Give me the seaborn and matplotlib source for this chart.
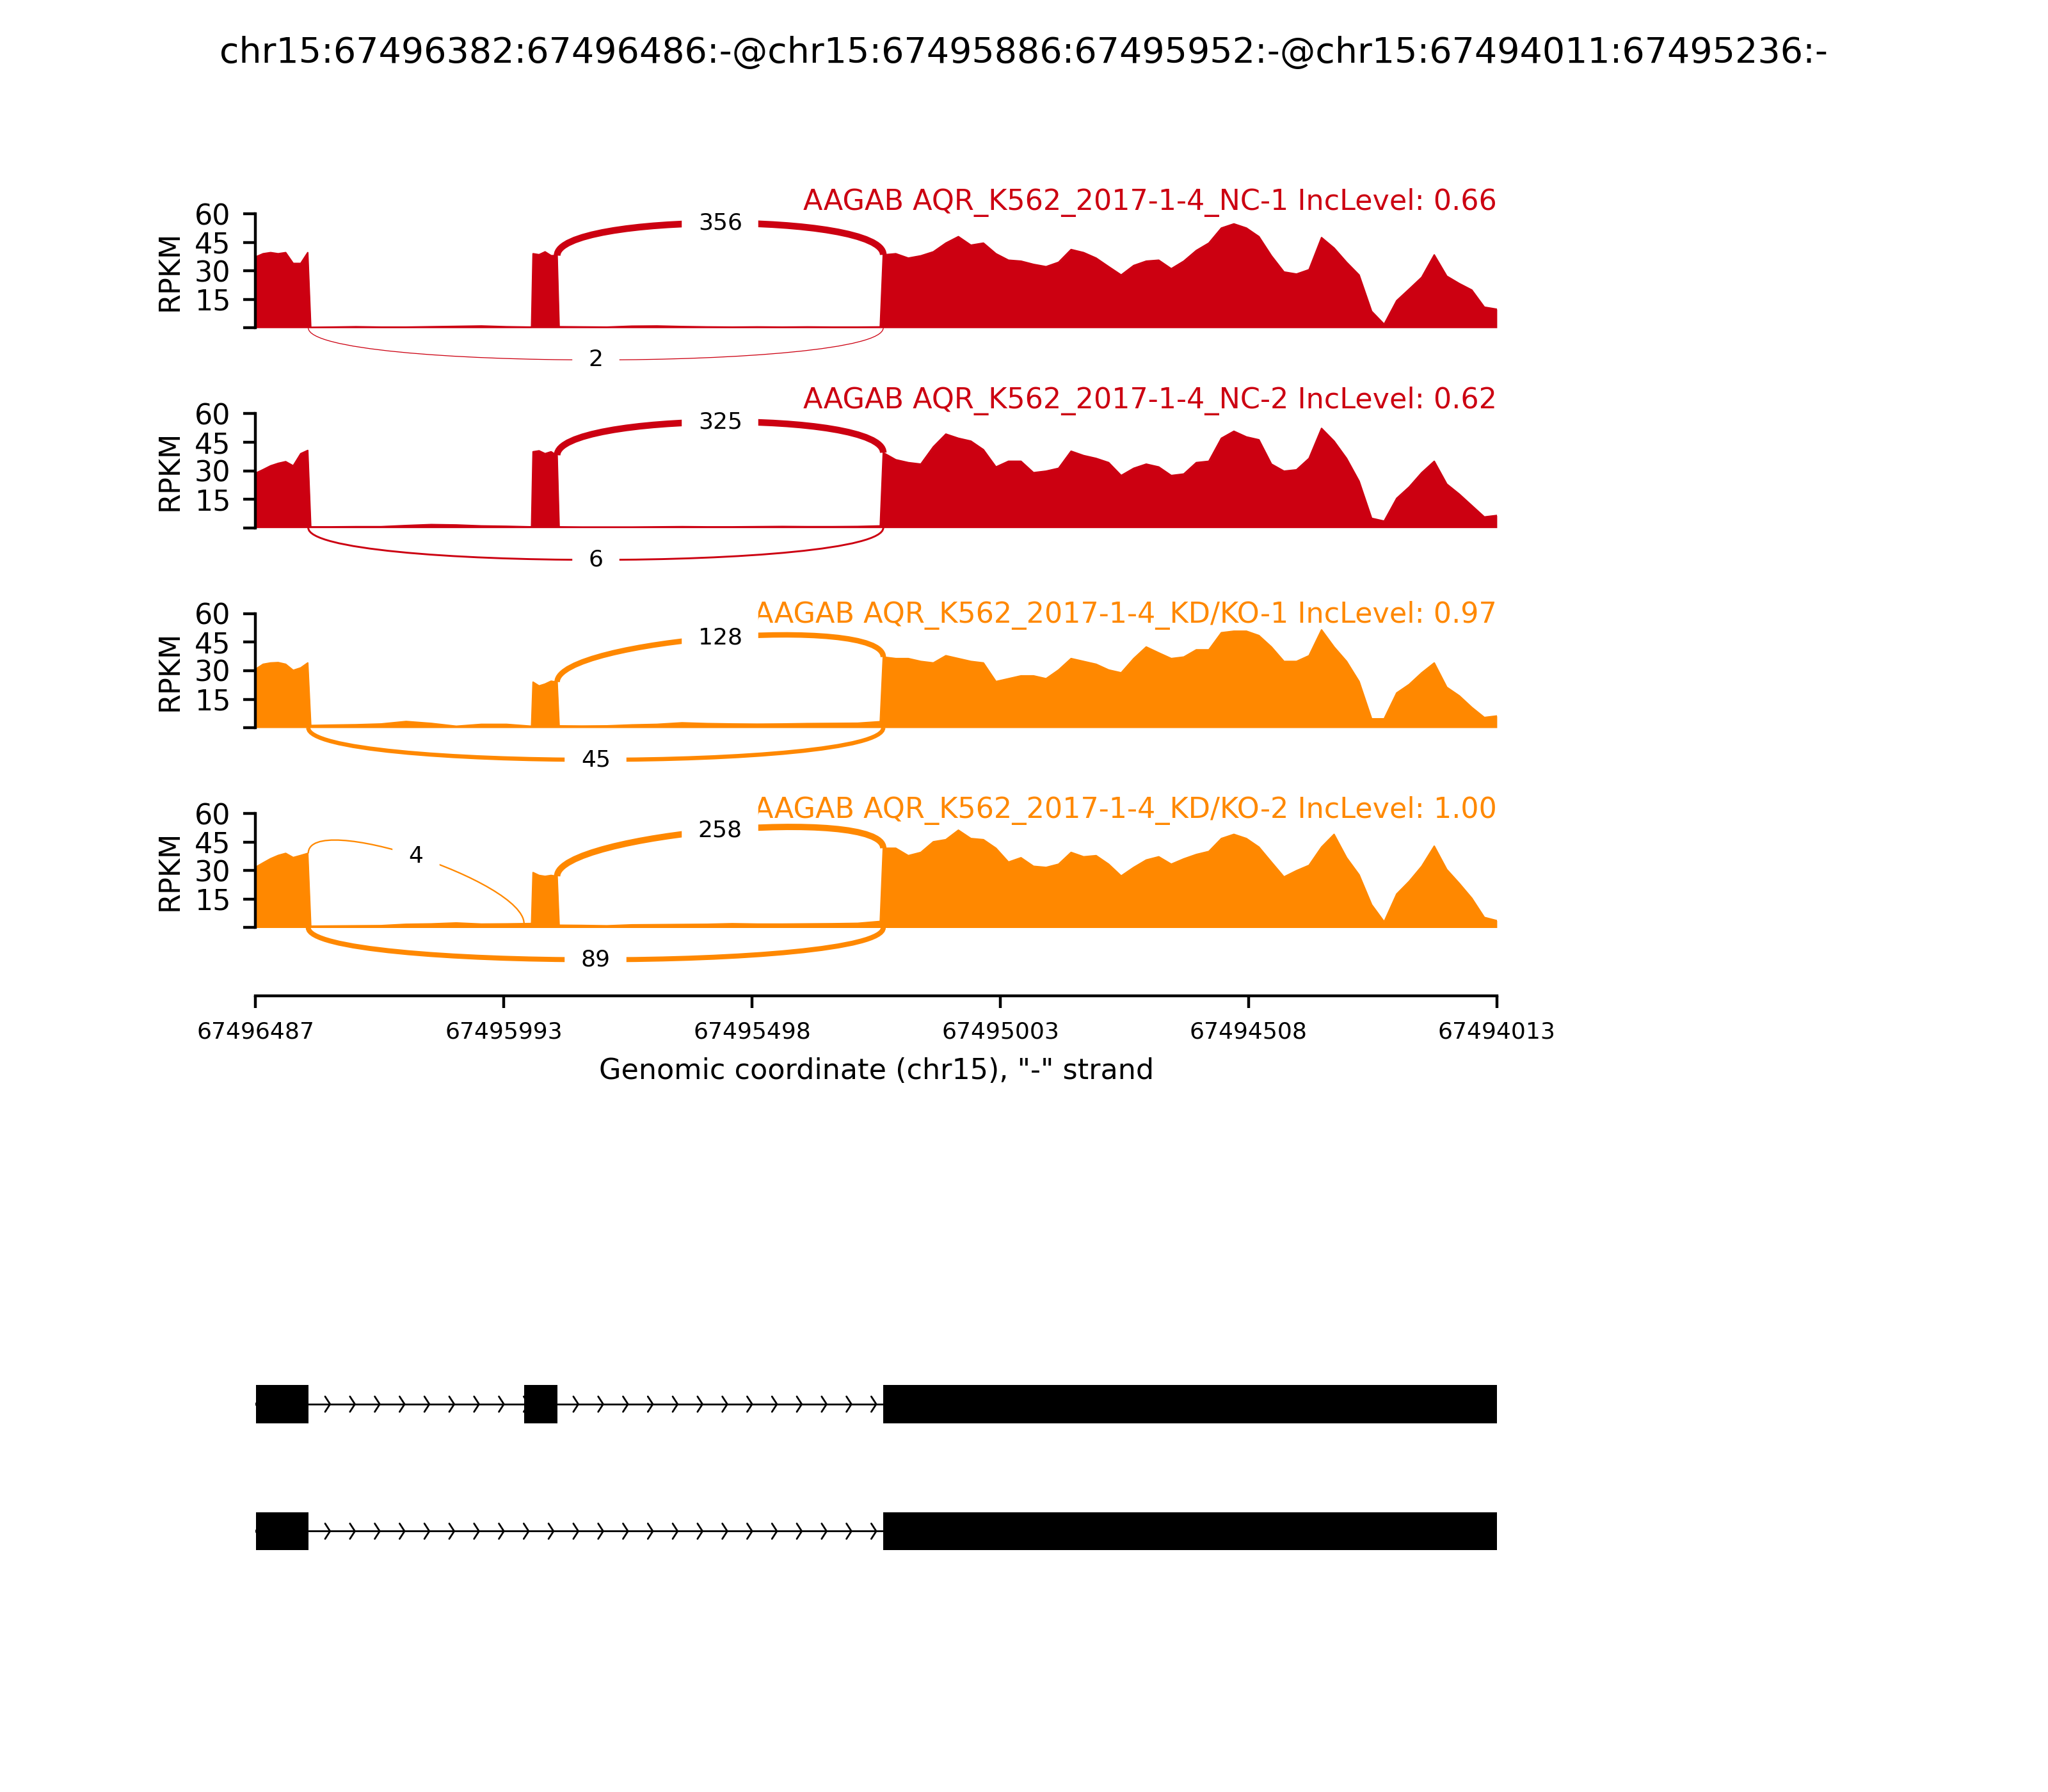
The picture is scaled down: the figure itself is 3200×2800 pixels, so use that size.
import numpy as np
import pandas as pd
import matplotlib
matplotlib.use("Agg")
import matplotlib.pyplot as plt
from matplotlib.path import Path
from matplotlib.patches import PathPatch, Rectangle
import seaborn as sns

# ---- event / region ----
TITLE = "chr15:67496382:67496486:-@chr15:67495886:67495952:-@chr15:67494011:67495236:-"
REGION_LEFT = 67496487   # "-" strand, so genomic coordinates decrease to the right
REGION_RIGHT = 67494013
XTICK_LABELS = ["67496487", "67495993", "67495498", "67495003", "67494508", "67494013"]
XLABEL = 'Genomic coordinate (chr15), "-" strand'

SAMPLE_LABELS = [
    "AAGAB AQR_K562_2017-1-4_NC-1 IncLevel: 0.66",
    "AAGAB AQR_K562_2017-1-4_NC-2 IncLevel: 0.62",
    "AAGAB AQR_K562_2017-1-4_KD/KO-1 IncLevel: 0.97",
    "AAGAB AQR_K562_2017-1-4_KD/KO-2 IncLevel: 1.00",
]
SAMPLE_COLORS = ["#CC0011", "#CC0011", "#FF8800", "#FF8800"]

# isoforms (genomic exon coordinates)
ISOFORM_INC = [(67496382, 67496486), (67495886, 67495952), (67494011, 67495236)]
ISOFORM_SKIP = [(67496382, 67496486), (67494011, 67495236)]

# junctions: (donor, acceptor) in genomic coords, and where the arc goes
JUNCTIONS = [(67496382, 67495236, "bottom"),   # exon1 -> exon3 (skipping)
             (67495886, 67495236, "top"),      # exon2 -> exon3
             (67496382, 67495952, "top")]      # exon1 -> exon2
NC1_JXN = [2, 356, 0]
NC2_JXN = [6, 325, 0]
KD1_JXN = [45, 128, 0]
KD2_JXN = [89, 258, 4]

# ---- coverage (RPKM), positions are offsets from REGION_LEFT ----
EXON1_POS = [0, 15, 30, 45, 60, 75, 90, 104]
INTRON1_POS = [110, 150, 200, 250, 300, 350, 400, 450, 500, 550]
EXON2_POS = [553, 565, 577, 589, 601]
INTRON2_POS = [605, 650, 700, 750, 800, 850, 900, 950, 1000, 1050, 1100, 1150, 1200, 1245]
EXON3_POS = list(np.linspace(1251, 2474, 50))

NC1_COV = (
    [37.3, 39.0, 39.6, 39.0, 39.6, 33.9, 33.9, 39.6]
    + [0.3, 0.4, 0.6, 0.4, 0.4, 0.6, 0.8, 1.0, 0.6, 0.4]
    + [39.0, 38.5, 40.0, 38.0, 38.0]
    + [0.6, 0.5, 0.4, 0.9, 1.0, 0.7, 0.5, 0.4, 0.5, 0.4, 0.5, 0.4, 0.4, 0.5]
    + [38.4, 39.0, 36.7, 37.9, 40.0, 44.6, 48.0, 43.5, 44.6, 39.0,
       35.6, 35.1, 33.4, 32.2, 34.5, 41.2, 39.6, 36.7, 32.2, 27.8,
       32.8, 35.1, 35.6, 31.1, 35.1, 40.7, 44.6, 52.5, 54.7, 52.5,
       48.0, 37.9, 29.4, 28.3, 30.6, 47.5, 42.0, 34.5, 27.8, 8.7,
       1.9, 14.3, 20.4, 26.6, 38.4, 27.2, 23.3, 19.9, 10.9, 9.8]
)
NC2_COV = (
    [28.7, 30.6, 32.6, 33.9, 34.8, 32.6, 39.0, 40.7]
    + [0.5, 0.5, 0.6, 0.6, 1.2, 1.7, 1.5, 1.0, 0.8, 0.5]
    + [40.0, 40.5, 39.0, 40.0, 38.0]
    + [0.5, 0.4, 0.4, 0.4, 0.5, 0.6, 0.5, 0.5, 0.6, 0.7, 0.6, 0.6, 0.7, 1.0]
    + [39.5, 35.8, 34.3, 33.5, 42.6, 49.3, 47.1, 45.6, 41.1, 32.0,
       35.0, 35.0, 29.0, 29.8, 31.3, 40.3, 38.0, 36.5, 34.3, 27.5,
       31.3, 33.5, 32.0, 27.5, 28.3, 34.3, 35.0, 47.1, 50.8, 47.8,
       46.3, 33.5, 29.8, 30.5, 36.5, 52.3, 45.6, 36.5, 24.5, 5.0,
       3.5, 15.5, 21.5, 29.0, 35.0, 23.0, 17.7, 11.7, 5.7, 6.5]
)
KD1_COV = (
    [30.8, 33.4, 34.1, 34.3, 33.4, 30.2, 31.5, 34.1]
    + [1.2, 1.4, 1.6, 2.0, 3.3, 2.3, 0.8, 1.8, 1.8, 0.8]
    + [24.0, 22.0, 23.0, 24.5, 24.0]
    + [1.0, 0.9, 1.0, 1.5, 1.8, 2.6, 2.2, 2.0, 1.9, 2.0, 2.2, 2.3, 2.4, 3.2]
    + [37.2, 36.4, 36.4, 34.9, 34.1, 37.9, 36.4, 34.9, 34.1, 24.3,
       25.8, 27.3, 27.3, 25.8, 30.4, 36.4, 34.9, 33.4, 30.4, 28.9,
       36.4, 42.5, 39.4, 36.4, 37.2, 41.0, 41.0, 50.0, 50.8, 50.8,
       48.5, 42.5, 34.9, 34.9, 37.9, 51.5, 42.5, 34.9, 24.3, 4.7,
       4.7, 18.3, 22.8, 28.9, 34.1, 21.3, 16.8, 10.7, 5.4, 6.2]
)
KD2_COV = (
    [31.8, 34.1, 36.3, 38.0, 39.1, 36.9, 38.0, 39.1]
    + [0.8, 0.9, 1.0, 1.1, 1.8, 2.0, 2.5, 1.9, 2.0, 2.2]
    + [29.0, 27.5, 27.0, 27.5, 27.0]
    + [1.3, 1.2, 1.0, 1.5, 1.6, 1.7, 1.8, 2.1, 1.9, 1.9, 2.0, 2.1, 2.3, 3.3]
    + [41.8, 41.8, 37.9, 39.6, 45.2, 46.3, 51.3, 46.9, 46.3, 41.8,
       34.5, 36.8, 32.3, 31.7, 33.4, 39.6, 37.3, 37.9, 33.4, 27.2,
       31.7, 35.6, 37.3, 33.4, 36.2, 38.5, 40.1, 46.9, 49.1, 46.9,
       42.4, 34.5, 26.7, 30.0, 32.8, 42.4, 49.1, 36.8, 27.8, 12.1,
       3.1, 17.7, 24.4, 32.3, 42.9, 30.6, 23.3, 15.5, 5.4, 3.7]
)

# ---- layout ----
AX_LEFT, AX_WIDTH = 0.1248, 0.6061
PANEL_BOTTOMS = [0.77886, 0.66729, 0.55571, 0.44414]
PANEL_HEIGHT = 0.10183
YMIN, YMAX = -36, 60
ARC_H = 22.5
LABEL_Y = [62.0, 62.9, 55.1, 57.7]

sns.set_theme(style="ticks", rc={
    "axes.edgecolor": "black", "axes.linewidth": 0.8,
    "xtick.color": "black", "ytick.color": "black",
    "xtick.major.size": 3.5, "ytick.major.size": 3.5,
    "xtick.major.width": 0.8, "ytick.major.width": 0.8,
    "xtick.major.pad": 3.5, "ytick.major.pad": 3.5,
    "text.color": "black", "axes.labelcolor": "black",
})
plt.rcParams["font.family"] = ["DejaVu Sans"]

span = REGION_LEFT - REGION_RIGHT
pos = np.array(EXON1_POS + INTRON1_POS + EXON2_POS + INTRON2_POS + EXON3_POS)

fig = plt.figure(figsize=(8, 7), dpi=400)
fig.suptitle(TITLE, fontsize=10)

covs = [NC1_COV, NC2_COV, KD1_COV, KD2_COV]
jxns = [NC1_JXN, NC2_JXN, KD1_JXN, KD2_JXN]

for i in range(4):
    color = SAMPLE_COLORS[i]
    cov = np.array(covs[i])
    ax = fig.add_axes([AX_LEFT, PANEL_BOTTOMS[i], AX_WIDTH, PANEL_HEIGHT])
    df = pd.DataFrame({"pos": pos, "rpkm": cov})
    ax.fill_between(df["pos"], df["rpkm"], 0, color=color, lw=0)
    sns.lineplot(data=df, x="pos", y="rpkm", ax=ax, color=color, lw=0.4)

    # junction arcs
    for (donor, acceptor, side), count in zip(JUNCTIONS, jxns[i]):
        if count == 0:
            continue
        ss1, ss2 = REGION_LEFT - donor, REGION_LEFT - acceptor
        if side == "bottom":
            pts = [(ss1, 0), (ss1, -ARC_H), (ss2, -ARC_H), (ss2, 0)]
        else:
            ld = np.interp(ss1 - 1, pos, cov)
            rd = np.interp(ss2, pos, cov)
            pts = [(ss1, ld), (ss1, ld + ARC_H), (ss2, rd + ARC_H), (ss2, rd)]
        p = np.array(pts)
        mid = (p[0] + 3 * p[1] + 3 * p[2] + p[3]) / 8
        path = Path(pts, [Path.MOVETO, Path.CURVE4, Path.CURVE4, Path.CURVE4])
        ax.add_patch(PathPatch(path, ec=color, fc="none",
                               lw=0.8 * np.log10(count + 1) - 0.15))
        ax.text(mid[0], mid[1], str(count), fontsize=6.5, ha="center",
                va="center", backgroundcolor="white", zorder=5)

    ax.text(span, LABEL_Y[i], SAMPLE_LABELS[i], color=color, fontsize=8,
            ha="right", va="baseline")

    ax.set_xlim(0, span)
    ax.set_ylim(YMIN, YMAX)
    ax.set_yticks([0, 15, 30, 45, 60])
    ax.set_yticklabels(["", "15", "30", "45", "60"], fontsize=8)
    ax.spines["left"].set_bounds(0, 60)
    ax.set_ylabel("RPKM", fontsize=8)
    ax.yaxis.set_label_coords(-0.058, (30 - YMIN) / (YMAX - YMIN))

    if i < 3:
        sns.despine(ax=ax, bottom=True)
        ax.set_xticks([])
        ax.set_xlabel("")
    else:
        sns.despine(ax=ax)
        ax.set_xticks(np.linspace(0, span, 6))
        ax.set_xticklabels(XTICK_LABELS, fontsize=6.5)
        ax.set_xlabel(XLABEL, fontsize=8, labelpad=4)

# ---- gene structure ----
gax = fig.add_axes([AX_LEFT, 0.11009, AX_WIDTH, 0.14179])
gax.set_xlim(0, span)
gax.set_ylim(-1.5, 0.5)
gax.axis("off")
EXON_W = 0.302
narrows = 50
spread = 0.2 * span / narrows
for row, isoform in enumerate([ISOFORM_INC, ISOFORM_SKIP]):
    yloc = -row
    rel = sorted([(REGION_LEFT - e, REGION_LEFT - s) for s, e in isoform])
    for (a0, a1), (b0, b1) in zip(rel[:-1], rel[1:]):
        gax.plot([a1, b0], [yloc, yloc], color="black", lw=0.5, zorder=1)
    for loc in np.arange(narrows) * span / narrows:
        gax.plot([loc - spread, loc, loc - spread],
                 [yloc + EXON_W / 5, yloc, yloc - EXON_W / 5],
                 color="black", lw=0.5, zorder=1)
    for s, e in rel:
        gax.add_patch(Rectangle((s, yloc - EXON_W / 2), e - s, EXON_W,
                                color="black", lw=0, zorder=3))

fig.savefig("out.png", dpi=400)
